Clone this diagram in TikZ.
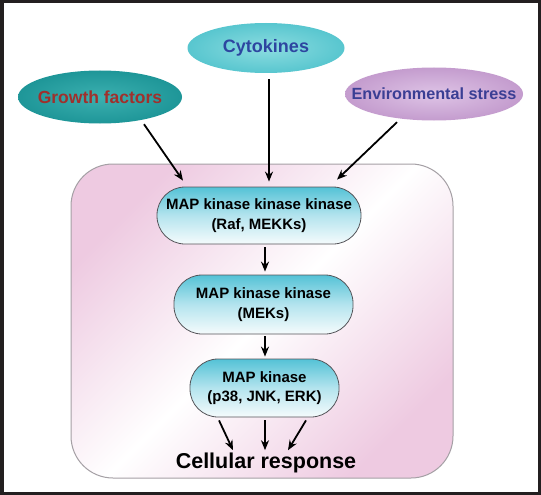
\documentclass[tikz,border=0pt]{standalone}
\usepackage{fontspec}
\setmainfont{Liberation Sans}
\usetikzlibrary{arrows.meta,shapes.geometric}
\definecolor{framec}{RGB}{35,31,32}
\definecolor{cellpink}{RGB}{238,202,225}
\definecolor{cellborder}{RGB}{165,160,165}
\definecolor{cyin}{RGB}{140,220,224}
\definecolor{cyout}{RGB}{88,198,207}
\definecolor{gfin}{RGB}{60,176,176}
\definecolor{gfout}{RGB}{30,150,152}
\definecolor{envin}{RGB}{222,196,230}
\definecolor{envout}{RGB}{196,156,206}
\definecolor{cytext}{RGB}{45,70,160}
\definecolor{gftext}{RGB}{160,48,44}
\definecolor{envtext}{RGB}{58,62,148}
\definecolor{boxtop}{RGB}{84,194,214}
\definecolor{boxmid}{RGB}{180,228,238}
\definecolor{boxbot}{RGB}{245,251,252}
\definecolor{boxborder}{RGB}{85,85,90}
\tikzset{
  srcell/.style={ellipse, inner xsep=-60pt, inner ysep=-10pt},
  pill/.style={draw=boxborder, line width=0.8pt, rounded corners=28pt, inner sep=0pt,
    top color=boxtop, bottom color=boxbot, middle color=boxmid, align=center,
    font=\bfseries\fontsize{15}{19.5}\selectfont},
  arr/.style={-{Stealth[length=10pt,width=8pt]}, line width=1.8pt, black}
}
\begin{document}
\begin{tikzpicture}[x=1pt,y=-1pt]
\useasboundingbox (0,0) rectangle (541,495);
\fill[white] (0,0) rectangle (541,495);
\draw[framec, line width=3.5pt] (1.75,1.75) rectangle (539.25,493.25);

% cell
\shade[top color=cellpink, bottom color=cellpink, middle color=white, shading angle=45,
  rounded corners=42pt] (71,164) rectangle (453,478);
\draw[cellborder, line width=1pt, rounded corners=42pt] (71,164) rectangle (453,478);

% signals
\node[srcell, inner color=cyin, outer color=cyout, minimum width=157pt, minimum height=50pt, text=cytext,
  font=\bfseries\fontsize{18}{20}\selectfont] (cy) at (266,48) {Cytokines};
\node[srcell, inner color=gfin, outer color=gfout, minimum width=164pt, minimum height=53pt, text=gftext,
  font=\bfseries\fontsize{17.5}{20}\selectfont] (gf) at (100,97) {Growth factors};
\node[srcell, inner color=envin, outer color=envout, minimum width=178pt, minimum height=53pt, text=envtext,
  font=\bfseries\fontsize{16.2}{20}\selectfont] (env) at (434,94) {Environmental stress};

% cascade
\node[pill, minimum width=204pt, minimum height=57pt] (kkk) at (259,215.5) {MAP kinase kinase kinase\\(Raf, MEKKs)};
\node[pill, minimum width=179pt, minimum height=59pt] (kk) at (263.5,304.5) {MAP kinase kinase\\(MEKs)};
\node[pill, minimum width=149pt, minimum height=58pt] (k) at (264.5,388) {MAP kinase\\(p38, JNK, ERK)};
\node[inner sep=0pt, anchor=base, font=\bfseries\fontsize{21.5}{24}\selectfont] (resp) at (266,468) {Cellular response};

% arrows
\draw[arr] ([xshift=44pt,yshift=-0.5pt]gf.south) -- ([xshift=-76pt,yshift=6pt]kkk.north);
\draw[arr] ([xshift=3pt,yshift=-6pt]cy.south) -- ([xshift=10pt,yshift=5pt]kkk.north);
\draw[arr] ([xshift=-37pt,yshift=-1.5pt]env.south) -- ([xshift=78pt,yshift=7pt]kkk.north);
\draw[arr] ([xshift=6pt,yshift=-3pt]kkk.south) -- ([xshift=1.5pt,yshift=3pt]kk.north);
\draw[arr] ([xshift=1.5pt,yshift=-2pt]kk.south) -- ([xshift=0.5pt,yshift=2pt]k.north);
\draw[arr] ([xshift=-45.5pt,yshift=-3pt]k.south) -- ([xshift=-33pt,yshift=2pt]resp.north);
\draw[arr] ([xshift=0.5pt,yshift=-3pt]k.south) -- ([xshift=-1pt,yshift=2pt]resp.north);
\draw[arr] ([xshift=41.5pt,yshift=-3pt]k.south) -- ([xshift=22pt,yshift=2pt]resp.north);
\end{tikzpicture}
\end{document}
